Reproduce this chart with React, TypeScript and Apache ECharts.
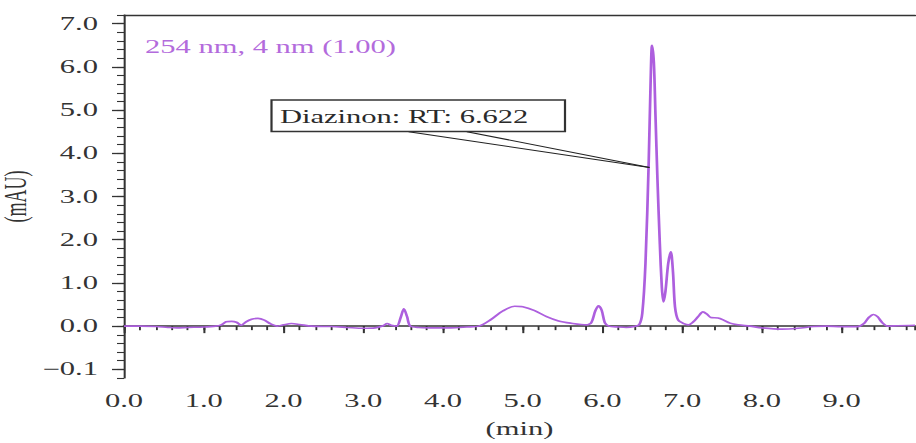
import React, { useEffect, useRef } from "react";
import * as echarts from "echarts";

// The plot is laid out in a narrow box and widened horizontally with CSS,
// which gives the wide, stretched lettering of the printed chromatogram.
const BASE_WIDTH = 540;
const HEIGHT = 443;
const STRETCH = 916 / BASE_WIDTH;

const FONT = '"Liberation Serif", "DejaVu Serif", serif';
const TRACE_COLOR = "#ad5fde";
const CAPTION_COLOR = "#b36bdc";
const INK = "#333333";

// Retention time (min) and absorbance (mAU) of the 254 nm trace.
const retentionTime = [
  0.0, 0.2, 0.4, 0.55, 0.66, 0.8, 1.0, 1.15, 1.22, 1.28, 1.35, 1.41, 1.47, 1.53,
  1.6, 1.68, 1.76, 1.84, 1.92, 2.0, 2.1, 2.2, 2.35, 2.6, 2.8, 3.0, 3.15, 3.25,
  3.3, 3.35, 3.42, 3.47, 3.51, 3.55, 3.59, 3.7, 3.9, 4.1, 4.3, 4.45, 4.6, 4.75,
  4.9, 5.0, 5.15, 5.3, 5.45, 5.6, 5.8, 5.86, 5.91, 5.95, 5.99, 6.03, 6.08, 6.2,
  6.3, 6.4, 6.46, 6.5, 6.54, 6.58, 6.605, 6.622, 6.645, 6.665, 6.69, 6.72, 6.745,
  6.765, 6.79, 6.825, 6.858, 6.885, 6.91, 6.95, 7.02, 7.08, 7.14, 7.2, 7.26, 7.31,
  7.36, 7.45, 7.52, 7.6, 7.7, 7.85, 8.0, 8.25, 8.45, 8.65, 8.8, 9.0, 9.2, 9.28,
  9.34, 9.4, 9.45, 9.51, 9.58, 9.7, 9.92,
];
const absorbance = [
  0.0, 0.0, -0.01, -0.03, -0.04, -0.03, -0.02, 0.0, 0.03, 0.1, 0.11, 0.09, 0.02,
  0.1, 0.16, 0.18, 0.14, 0.05, 0.0, 0.03, 0.06, 0.04, 0.0, -0.01, -0.03, -0.05,
  -0.04, 0.01, 0.06, 0.02, 0.0, 0.2, 0.4, 0.22, 0.0, -0.03, -0.04, -0.04, -0.02,
  0.0, 0.15, 0.35, 0.46, 0.45, 0.36, 0.22, 0.12, 0.07, 0.03, 0.08, 0.35, 0.47,
  0.37, 0.08, 0.0, -0.02, -0.03, -0.01, 0.03, 0.3, 1.46, 3.77, 5.7, 6.5, 6.1, 4.9,
  3.4, 1.9, 0.9, 0.56, 0.8, 1.45, 1.72, 1.25, 0.45, 0.14, 0.06, 0.03, 0.1, 0.22,
  0.33, 0.28, 0.2, 0.19, 0.14, 0.07, 0.03, 0.0, -0.04, -0.07, -0.05, -0.01, 0.0,
  -0.01, -0.01, 0.06, 0.2, 0.27, 0.22, 0.08, 0.0, 0.01, 0.02,
];

// Axis ticks and their printed labels.
const xTickValues = [0, 1, 2, 3, 4, 5, 6, 7, 8, 9];
const xTickLabels = ["0.0", "1.0", "2.0", "3.0", "4.0", "5.0", "6.0", "7.0", "8.0", "9.0"];
const yTickValues = [-1, 0, 1, 2, 3, 4, 5, 6, 7];
const yTickLabels = ["\u22120.1", "0.0", "1.0", "2.0", "3.0", "4.0", "5.0", "6.0", "7.0"];

const X_MIN = 0;
const X_MAX = 9.92;
const Y_MIN = -1.2;
const Y_MAX = 7.2;
const MINOR_STEP = 0.2;

// Peak annotation: callout text and the two leader lines (data coordinates).
const peakCaption = "Diazinon: RT: 6.622";
const channelCaption = "254 nm, 4 nm (1.00)";
const leaderStarts = [
  [3.57, 4.5],
  [4.3, 4.5],
];
const leaderEnd = [6.59, 3.67];

const sx = (px: number) => px / STRETCH;

export default function App() {
  const ref = useRef<HTMLDivElement>(null);

  useEffect(() => {
    if (!ref.current) return;
    const chart = echarts.init(ref.current, undefined, { renderer: "svg" });

    const trace = retentionTime.map((t, i) => [t, absorbance[i]]);
    const labelFor = (values: number[], labels: string[]) => (v: number) => {
      const i = values.findIndex((x) => Math.abs(x - v) < 1e-6);
      return i >= 0 ? labels[i] : "";
    };

    chart.setOption({
      animation: false,
      backgroundColor: "#ffffff",
      grid: {
        left: sx(124),
        right: sx(1),
        top: 15,
        bottom: 65,
        containLabel: false,
        outerBoundsMode: "none",
      },
      xAxis: [
        {
          type: "value",
          position: "bottom",
          min: X_MIN,
          max: X_MAX,
          name: "(min)",
          nameLocation: "middle",
          nameGap: 42,
          nameMoveOverlap: false,
          nameTextStyle: { fontFamily: FONT, fontSize: 18, color: INK },
          axisLine: { show: true, lineStyle: { color: INK, width: 1.6 } },
          axisTick: {
            show: true,
            customValues: xTickValues,
            length: 7,
            lineStyle: { color: INK, width: 1.2 },
          },
          axisLabel: {
            show: true,
            customValues: xTickValues,
            formatter: labelFor(xTickValues, xTickLabels),
            margin: 14,
            fontFamily: FONT,
            fontSize: 18,
            color: INK,
          },
          splitLine: { show: false },
        },
        {
          // minor ticks every 0.2 min
          type: "value",
          position: "bottom",
          min: X_MIN,
          max: X_MAX,
          interval: MINOR_STEP,
          axisLine: { show: false },
          axisTick: { show: true, length: 4, lineStyle: { color: INK, width: 1.1 } },
          axisLabel: { show: false },
          splitLine: { show: false },
        },
        {
          // top frame line
          type: "value",
          position: "top",
          min: X_MIN,
          max: X_MAX,
          axisLine: { show: true, lineStyle: { color: INK, width: 1.4 } },
          axisTick: { show: false },
          axisLabel: { show: false },
          splitLine: { show: false },
        },
      ],
      yAxis: [
        {
          type: "value",
          position: "left",
          min: Y_MIN,
          max: Y_MAX,
          name: "(mAU)",
          nameLocation: "middle",
          nameRotate: 90,
          nameGap: 55,
          nameMoveOverlap: false,
          nameTextStyle: { fontFamily: FONT, fontSize: 18, color: INK },
          axisLine: { show: true, lineStyle: { color: INK, width: 1.2 } },
          axisTick: {
            show: true,
            customValues: yTickValues,
            length: sx(12),
            lineStyle: { color: INK, width: 1.3 },
          },
          axisLabel: {
            show: true,
            customValues: yTickValues,
            formatter: labelFor(yTickValues, yTickLabels),
            margin: sx(26),
            fontFamily: FONT,
            fontSize: 18,
            color: INK,
          },
          splitLine: { show: false },
        },
        {
          // minor ticks every 0.2 mAU
          type: "value",
          position: "left",
          min: Y_MIN,
          max: Y_MAX,
          interval: MINOR_STEP,
          axisLine: { show: false },
          axisTick: { show: true, length: sx(7), lineStyle: { color: INK, width: 1.1 } },
          axisLabel: { show: false },
          splitLine: { show: false },
        },
      ],
      series: [
        {
          type: "line",
          xAxisIndex: 0,
          yAxisIndex: 0,
          data: trace,
          showSymbol: false,
          smooth: 0.3,
          lineStyle: { color: TRACE_COLOR, width: 1.6 },
          markLine: {
            silent: true,
            symbol: ["none", "none"],
            label: { show: false },
            lineStyle: { color: "#222222", width: 1, type: "solid" },
            data: leaderStarts.map((start) => [
              { coord: start },
              { coord: leaderEnd },
            ]),
          },
        },
      ],
      graphic: [
        {
          type: "text",
          x: sx(145),
          y: 47,
          style: {
            text: channelCaption,
            font: `18px ${FONT}`,
            fill: CAPTION_COLOR,
            align: "left",
            verticalAlign: "middle",
          },
        },
        {
          type: "rect",
          shape: { x: sx(271.5), y: 100, width: sx(293.5), height: 31.5 },
          style: { fill: "#ffffff", stroke: INK, lineWidth: 1.3 },
          z: 10,
        },
        {
          type: "text",
          x: sx(280),
          y: 116.5,
          z: 11,
          style: {
            text: peakCaption,
            font: `18px ${FONT}`,
            fill: "#2a2a2a",
            align: "left",
            verticalAlign: "middle",
          },
        },
      ],
    });

    return () => chart.dispose();
  }, []);

  return (
    <div
      style={{
        position: "fixed",
        left: 0,
        top: 0,
        width: 916,
        height: HEIGHT,
        overflow: "hidden",
        background: "#ffffff",
      }}
    >
      <div
        ref={ref}
        style={{
          width: BASE_WIDTH,
          height: HEIGHT,
          transform: `scaleX(${STRETCH})`,
          transformOrigin: "0 0",
        }}
      />
    </div>
  );
}
